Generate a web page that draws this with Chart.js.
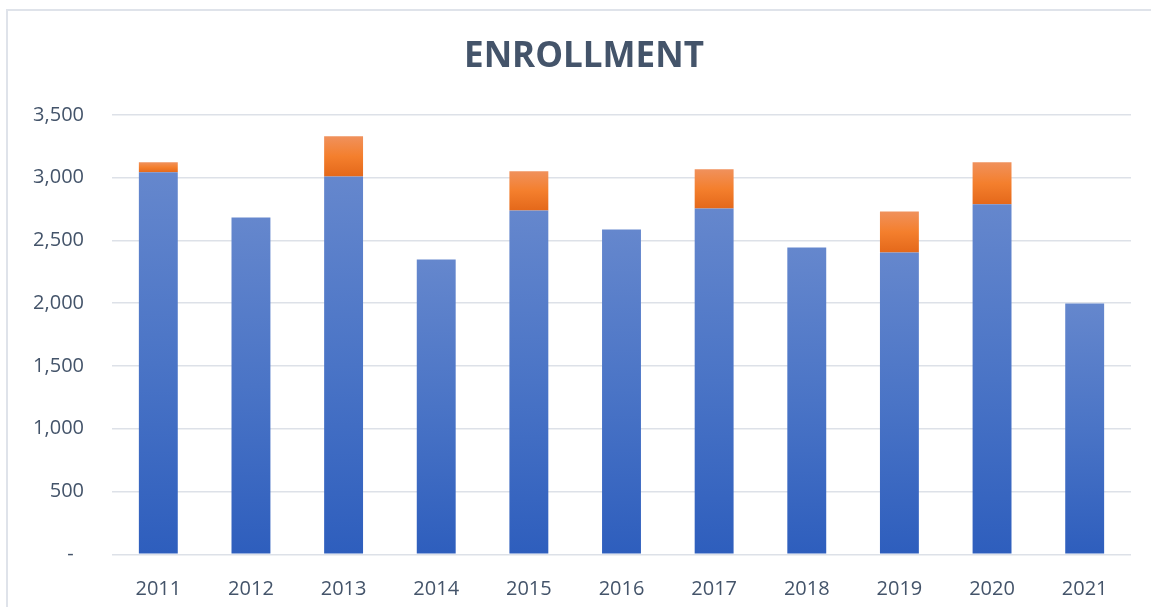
<!DOCTYPE html>
<html>
<head>
<meta charset="utf-8">
<title>Enrollment</title>
<script src="https://cdn.jsdelivr.net/npm/chart.js@4/dist/chart.umd.min.js"></script>
<style>
    html, body { margin: 0; padding: 0; background: #fff; }
    #wrap { position: relative; width: 1151px; height: 607px; overflow: hidden; }
    #frame { position: absolute; left: 6px; top: 9px; width: 1200px; height: 700px;
             border-left: 2px solid #dfe3ea; border-top: 2px solid #dfe3ea; }
    #enroll-chart { position: absolute; left: 0; top: 0; }
</style>
</head>
<body>
<div id="wrap">
    <div id="frame"></div>
    <canvas id="enroll-chart" width="1151" height="607"></canvas>
</div>
<script>
/* ── enrollment data ── */
const years = ['2011', '2012', '2013', '2014', '2015', '2016', '2017', '2018', '2019', '2020', '2021'];
const baseEnrollment = [3043, 2684, 3011, 2349, 2740, 2588, 2755, 2444, 2404, 2788, 1998];
const addedEnrollment = [80, null, 319, null, 311, null, 312, null, 328, 335, null];
const yTicks = [0, 500, 1000, 1500, 2000, 2500, 3000, 3500];

const TEXT_COLOR = '#44546a';
const GRID_COLOR = '#dde1e8';
const BLUE_STOPS = ['#6587cd', '#4a74c6', '#2e5ebd'];
const ORANGE_STOPS = ['#f0915c', '#f47f2d', '#e4681a'];

// one vertical gradient per bar segment, top to bottom
function segmentGradient(ctx, stops, lowVals, highVals) {
    const chart = ctx.chart;
    const y = chart.scales && chart.scales.y;
    if (!chart.chartArea || !y) return stops[1];
    const i = ctx.dataIndex;
    const lo = lowVals ? (lowVals[i] || 0) : 0;
    const hi = lo + (highVals[i] || 0);
    const top = y.getPixelForValue(hi);
    const bottom = y.getPixelForValue(lo);
    if (!isFinite(top) || !isFinite(bottom) || bottom - top < 1) return stops[1];
    const g = chart.ctx.createLinearGradient(0, top, 0, bottom);
    g.addColorStop(0, stops[0]);
    g.addColorStop(0.5, stops[1]);
    g.addColorStop(1, stops[2]);
    return g;
}

// title in the original is centred over the whole frame, not the plot
const shiftTitle = {
    id: 'shiftTitle',
    afterLayout(chart) {
        if (chart.titleBlock) chart.titleBlock.left += 37;
    },
};

const canvas = document.getElementById('enroll-chart');
new Chart(canvas.getContext('2d'), {
    type: 'bar',
    plugins: [shiftTitle],
    data: {
        labels: years,
        datasets: [
            {
                label: 'Enrollment',
                data: baseEnrollment,
                backgroundColor: c => segmentGradient(c, BLUE_STOPS, null, baseEnrollment),
                borderWidth: 0,
            },
            {
                label: 'Additional',
                data: addedEnrollment,
                backgroundColor: c => segmentGradient(c, ORANGE_STOPS, baseEnrollment, addedEnrollment),
                borderWidth: 0,
            },
        ],
    },
    options: {
        responsive: false,
        animation: false,
        categoryPercentage: 1,
        barPercentage: 0.42,
        layout: { padding: { left: 0, right: 20, top: 0, bottom: 0 } },
        plugins: {
            legend: { display: false },
            tooltip: { enabled: false },
            title: {
                display: true,
                text: 'ENROLLMENT',
                color: TEXT_COLOR,
                font: { family: '"Open Sans", sans-serif', size: 35, weight: 'bold' },
                padding: { top: 36, bottom: 37 },
            },
        },
        scales: {
            x: {
                stacked: true,
                grid: { display: false },
                border: { display: false },
                ticks: {
                    color: TEXT_COLOR,
                    padding: 15,
                    font: { family: '"Open Sans", sans-serif', size: 20 },
                },
                afterFit: s => { s.height = 52.7; },
            },
            y: {
                stacked: true,
                min: 0,
                max: 3500,
                afterBuildTicks: s => { s.ticks = yTicks.map(v => ({ value: v })); },
                grid: { color: GRID_COLOR, lineWidth: 1.6, drawTicks: false },
                border: { display: false },
                ticks: {
                    color: TEXT_COLOR,
                    padding: 28,
                    font: { family: '"Open Sans", sans-serif', size: 20 },
                    callback: v => v === 0 ? '-  ' : v.toLocaleString('en-US'),
                },
                afterFit: s => { s.width = 112; },
            },
        },
    },
});
</script>
</body>
</html>
